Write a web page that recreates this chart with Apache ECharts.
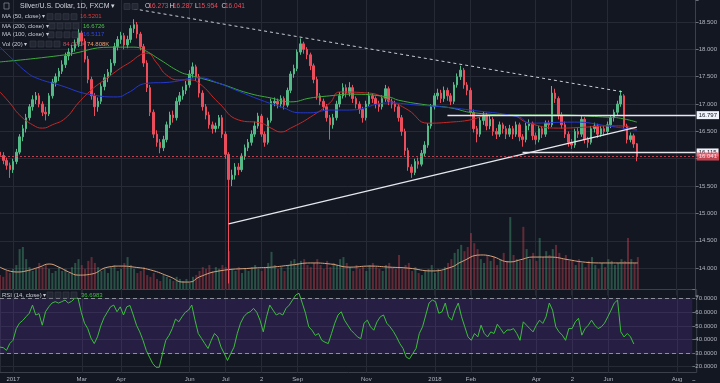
<!DOCTYPE html>
<html><head><meta charset="utf-8">
<script src="https://cdn.jsdelivr.net/npm/echarts@6/dist/echarts.min.js"></script>
<style>html,body{margin:0;padding:0;background:#131722;}#c{width:720px;height:383px;}</style>
</head><body><div id="c"></div>
<script>
// ---- data: 2-trading-day candles [open, close, low, high] ----
const ohlc = [
[16.12,16.06,15.98,16.20],[16.06,15.97,15.90,16.12],[15.97,15.88,15.80,16.02],[15.88,15.80,15.65,15.93],[15.80,15.95,15.74,16.00],
[15.95,16.12,15.90,16.18],[16.12,16.40,16.08,16.45],[16.40,16.55,16.32,16.62],[16.55,16.75,16.48,16.82],[16.75,16.95,16.70,17.00],
[16.95,17.08,16.88,17.16],[17.08,17.15,17.00,17.22],[17.15,17.00,16.94,17.20],[17.00,16.85,16.78,17.05],[16.85,16.82,16.70,16.95],
[16.82,17.15,16.78,17.20],[17.15,17.40,17.10,17.46],[17.40,17.50,17.32,17.56],[17.50,17.60,17.42,17.66],[17.60,17.72,17.55,17.80],
[17.72,17.88,17.66,17.94],[17.88,17.95,17.80,18.02],[17.95,18.02,17.88,18.08],[18.02,18.10,17.96,18.18],[18.10,18.30,18.04,18.38],
[18.30,18.15,18.06,18.34],[18.15,17.82,17.76,18.20],[17.82,17.45,17.38,17.88],[17.45,17.15,17.08,17.50],[17.15,16.95,16.78,17.20],
[16.95,17.05,16.86,17.12],[17.05,17.32,17.00,17.38],[17.32,17.48,17.25,17.55],[17.48,17.58,17.40,17.64],[17.58,17.75,17.52,17.82],
[17.75,18.05,17.70,18.12],[18.05,18.18,17.98,18.24],[18.18,18.25,18.10,18.32],[18.25,18.08,18.00,18.30],[18.08,18.18,18.02,18.25],
[18.18,18.38,18.12,18.44],[18.38,18.45,18.30,18.55],[18.45,18.28,18.20,18.50],[18.28,18.05,17.98,18.32],[18.05,17.75,17.68,18.10],
[17.75,17.30,17.22,17.80],[17.30,16.85,16.78,17.35],[16.85,16.45,16.38,16.90],[16.45,16.30,16.22,16.52],[16.30,16.20,16.10,16.36],
[16.20,16.35,16.14,16.42],[16.35,16.62,16.30,16.68],[16.62,16.80,16.56,16.86],[16.80,16.75,16.66,16.88],[16.75,17.05,16.70,17.12],
[17.05,17.15,16.98,17.22],[17.15,17.25,17.08,17.32],[17.25,17.35,17.18,17.42],[17.35,17.55,17.30,17.62],[17.55,17.68,17.48,17.76],
[17.68,17.50,17.42,17.72],[17.50,17.20,17.12,17.55],[17.20,16.95,16.88,17.25],[16.95,16.80,16.72,17.00],[16.80,16.62,16.55,16.86],
[16.62,16.55,16.46,16.68],[16.55,16.60,16.48,16.66],[16.60,16.75,16.55,16.80],[16.75,16.45,16.38,16.80],[16.45,16.08,16.00,16.50],
[16.08,15.62,13.72,16.12],[15.62,15.70,15.50,15.80],[15.70,15.85,15.62,15.92],[15.85,15.80,15.70,15.92],[15.80,16.05,15.76,16.10],
[16.05,16.20,15.98,16.26],[16.20,16.30,16.14,16.36],[16.30,16.45,16.24,16.52],[16.45,16.60,16.40,16.68],[16.60,16.78,16.55,16.84],
[16.78,16.45,16.40,16.82],[16.45,16.30,16.22,16.50],[16.30,16.70,16.26,16.75],[16.70,17.05,16.66,17.10],[17.02,17.05,16.96,17.12],
[17.05,17.00,16.92,17.10],[17.00,17.10,16.94,17.16],[17.10,16.98,16.90,17.14],[16.98,17.25,16.94,17.30],[17.25,17.55,17.20,17.60],
[17.55,17.65,17.48,17.72],[17.65,17.95,17.60,18.00],[17.95,18.10,17.90,18.20],[18.10,18.00,17.92,18.14],[18.00,17.90,17.82,18.04],
[17.90,17.70,17.62,17.94],[17.70,17.45,17.38,17.74],[17.45,17.15,17.08,17.50],[17.15,17.05,16.98,17.20],[17.05,16.95,16.88,17.10],
[16.95,16.75,16.68,17.00],[16.75,16.62,16.35,16.80],[16.62,16.75,16.55,16.82],[16.75,17.00,16.70,17.06],[17.00,17.15,16.94,17.22],
[17.15,17.30,17.10,17.38],[17.30,17.20,17.12,17.36],[17.20,17.30,17.14,17.40],[17.30,17.10,17.02,17.35],[17.10,17.00,16.92,17.14],
[17.00,16.90,16.82,17.05],[16.90,16.75,16.66,16.95],[16.75,17.00,16.70,17.06],[17.00,17.15,16.96,17.22],[17.15,17.10,17.02,17.20],
[17.10,17.00,16.92,17.14],[17.00,16.95,16.86,17.06],[16.95,17.10,16.90,17.16],[17.10,17.28,17.04,17.35],[17.28,17.05,16.98,17.32],
[17.05,17.00,16.92,17.10],[17.00,16.95,16.86,17.06],[16.95,16.75,16.68,17.00],[16.75,16.50,16.42,16.80],[16.50,16.15,16.06,16.55],
[16.15,15.85,15.78,16.20],[15.85,15.75,15.65,15.90],[15.75,15.95,15.70,16.00],[15.95,15.90,15.82,16.02],[15.90,16.10,15.86,16.16],
[16.10,16.25,16.05,16.32],[16.25,16.60,16.20,16.65],[16.60,16.95,16.55,17.00],[16.95,17.15,16.90,17.20],[17.15,17.20,17.08,17.28],
[17.20,17.10,17.02,17.26],[17.10,17.25,17.04,17.32],[17.25,17.15,17.06,17.30],[17.15,17.05,16.98,17.20],[17.05,17.35,17.00,17.40],
[17.35,17.50,17.30,17.56],[17.50,17.62,17.44,17.70],[17.62,17.35,17.28,17.66],[17.35,17.25,17.16,17.40],[17.25,16.85,16.78,17.30],
[16.85,16.55,16.48,16.90],[16.55,16.45,16.30,16.60],[16.45,16.70,16.40,16.76],[16.70,16.80,16.62,16.86],[16.80,16.60,16.52,16.84],
[16.60,16.72,16.54,16.78],[16.72,16.50,16.42,16.76],[16.50,16.45,16.36,16.56],[16.45,16.62,16.40,16.68],[16.62,16.55,16.46,16.66],
[16.55,16.45,16.36,16.60],[16.45,16.55,16.40,16.62],[16.55,16.45,16.36,16.60],[16.45,16.62,16.40,16.68],[16.62,16.40,16.32,16.66],
[16.40,16.35,16.22,16.45],[16.35,16.60,16.30,16.66],[16.60,16.65,16.52,16.72],[16.65,16.42,16.34,16.68],[16.42,16.35,16.26,16.48],
[16.35,16.55,16.30,16.60],[16.55,16.45,16.38,16.60],[16.45,16.65,16.40,16.70],[16.65,16.62,16.54,16.70],[16.62,17.20,16.58,17.33],
[17.20,17.10,17.02,17.28],[17.10,16.80,16.72,17.14],[16.80,16.62,16.55,16.85],[16.62,16.45,16.38,16.68],[16.45,16.30,16.22,16.50],
[16.30,16.25,16.18,16.36],[16.25,16.50,16.20,16.55],[16.50,16.45,16.38,16.56],[16.45,16.72,16.40,16.78],[16.72,16.35,16.28,16.76],
[16.35,16.30,16.20,16.40],[16.30,16.55,16.26,16.60],[16.55,16.60,16.48,16.66],[16.60,16.45,16.38,16.64],[16.45,16.55,16.40,16.60],
[16.55,16.50,16.42,16.60],[16.50,16.62,16.45,16.68],[16.62,16.75,16.56,16.80],[16.75,16.85,16.68,16.90],[16.85,17.00,16.80,17.06],
[17.00,17.15,16.95,17.25],[17.15,16.60,16.55,17.18],[16.60,16.35,16.28,16.64],[16.35,16.42,16.30,16.48],[16.42,16.27,16.20,16.46],
[16.273,16.041,15.954,16.287]
];
// volume (K)
const volume = [
40,35,52,46,58,69,115,121,86,63,52,58,75,63,69,58,46,52,63,
52,58,46,63,75,86,69,58,81,92,75,63,52,58,46,63,69,52,58,75,92,69,
58,46,52,63,40,35,46,29,23,40,35,29,23,35,29,
23,29,17,35,40,52,63,58,69,52,63,58,69,63,109,
58,52,63,46,58,52,63,69,58,52,63,75,107,69,58,63,52,69,81,86,75,
81,86,69,63,75,86,69,58,81,63,75,69,86,92,75,63,
52,69,58,63,52,69,75,63,58,52,69,75,63,58,
98,
58,69,75,52,63,46,40,52,58,69,46,58,52,63,75,
86,104,115,127,109,121,161,132,115,
86,75,98,81,92,69,86,104,81,
207,
98,86,81,
179,
115,86,104,81,
147,
92,109,98,115,127,104,86,98,81,
81,69,86,75,63,81,92,69,58,75,63,86,81,69,75,86,
81,147,86,75,92
];
// RSI (14)
const rsi = [
34.4,34,32,37,39.4,48,52,54,56.7,59.3,65.3,58,59,50.5,60.4,64,66.8,67.8,66.8,67.8,
69,66.8,68,70.3,70.5,60,52,48,41,37,42,50,56,60,64,65.3,60.4,64,58,64,
65,58,50.5,45.6,39.4,32,27,22.3,19.6,19.6,29.7,39.4,43,48,55,53,56.7,60,61.6,65.3,
54.2,44.4,40.8,37,33.4,39.4,44.4,41.9,34.4,29.7,24.6,29.7,34.4,44.4,52,56.7,59.3,60.4,62.9,60,
54.2,45.6,56.7,65.3,61.6,58,59.3,58,62.9,65.3,69,72.7,74,66.8,59.3,49.3,46.8,43,44.4,39.4,
38,37,44.4,52,58,60.4,54.2,50.5,46.8,44.4,41.9,40.6,52,54.2,49.3,46.8,53,56.7,58,52,
49.3,46,41.9,37,33.4,27,25.8,29.7,33.4,44.4,49.3,58,66.8,69,67.8,59.3,60.4,66.8,56.7,54.2,
61.6,66.8,56.7,49.3,41.9,39.4,44.4,41.9,50.5,44.4,41.9,45.6,44.4,51.2,48,44.4,47,47,48,44.4,
39.4,53,50.5,48,45.6,50.5,54.2,51.8,56.7,66.8,61.6,49.3,45.6,43.2,39.4,48,48,53,55.6,43.2,
48,50.5,54.2,50.5,48,49.3,52,56.7,61.6,66.8,69,45.6,41.9,44.4,41.9,36.7
];
// moving averages: [candle index, value]
const ma50 = [[0,17.22],[3,17.02],[6,16.80],[10,16.62],[13,16.56],[16,16.62],[20,16.74],[24,17.02],[28,17.26],[31,17.40],[34,17.53],[37,17.66],[40,17.77],[43,17.90],[45,17.93],[48,17.75],[51,17.53],[55,17.44],[58,17.44],[61,17.38],[67,17.02],[73,16.71],[80,16.65],[83,16.56],[86,16.49],[89,16.56],[95,16.76],[101,17.02],[104,17.22],[113,17.20],[119,17.07],[125,16.89],[131,16.65],[138,16.67],[144,16.71],[150,16.80],[156,16.80],[162,16.65],[171,16.56],[180,16.58],[186,16.60],[190,16.60],[195,16.53]];
const ma200 = [[0,17.77],[20,17.90],[34,18.04],[41,18.04],[44,17.99],[49,17.81],[55,17.59],[58,17.53],[67,17.38],[76,17.20],[83,17.11],[89,17.04],[95,17.11],[101,17.15],[107,17.18],[119,17.13],[122,17.07],[131,16.98],[138,16.93],[145,16.84],[159,16.80],[169,16.80],[186,16.76],[190,16.74],[195,16.67]];
const ma100 = [[0,18.04],[4,17.81],[8,17.59],[11,17.48],[18,17.35],[28,17.17],[36,17.13],[39,17.20],[45,17.38],[52,17.40],[61,17.48],[67,17.38],[72,17.26],[80,17.07],[86,16.95],[92,16.84],[95,16.84],[101,16.89],[107,16.89],[119,17.02],[128,16.98],[135,16.95],[144,16.89],[159,16.76],[162,16.65],[176,16.67],[186,16.60],[195,16.52]];
const volMa = [[0,63],[5,49],[8,52],[12,63],[15,72],[18,63],[21,49],[24,40],[28,43],[33,63],[37,66],[41,63],[46,55],[52,35],[56,20],[58,20],[61,35],[67,52],[77,60],[83,63],[89,69],[95,75],[101,72],[107,63],[113,66],[119,63],[125,60],[132,52],[138,63],[141,78],[147,98],[150,95],[156,78],[159,84],[163,92],[168,92],[174,84],[178,78],[184,75],[190,75],[195,75]];
// drawings
const resistanceLine = [[41,18.74],[191,17.22]];
const supportLine = [[70,14.81],[195,16.58]];
const levelHigh = {from:137, value:16.797};
const levelLow = {from:160, value:16.115};
const lastPrice = 16.041;
// x axis
const slotCount = 214;
const monthIdx = [4,25,37,58,69,80,91,112,133,144,164,175,186,207];
const monthLabels = ['2017','Mar','Apr','Jun','Jul','2','Sep','Nov','2018','Feb','Apr','2','Jun','Aug'];

const categories = [];
for (let i = 0; i < slotCount; i++) categories.push(String(i));
const lastIdx = slotCount - 1;
const isMonth = (i) => monthIdx.indexOf(i) >= 0;

const BG = '#131722', GRID = '#262a35', TXT = '#b2b5be', AXL = '#3c404b';
const UP = '#53b987', DOWN = '#eb4d5c';
const FONT = 'Liberation Sans, Arial, sans-serif';

const volData = volume.map((v, i) => ({
  value: v,
  itemStyle: {color: ohlc[i][1] >= ohlc[i][0] ? 'rgba(83,185,135,0.36)' : 'rgba(235,77,92,0.36)'}
}));

const R = 23.3;
function boxes(x0, y, n) {
  const arr = [];
  for (let k = 0; k < n; k++) {
    arr.push({type:'rect', shape:{x:x0 + k*8, y:y-3, width:6, height:6},
      style:{fill:'#232733', stroke:'#3a3e4a', lineWidth:0.6}, z:100});
  }
  return arr;
}
function txt(x, y, s, color, size) {
  return {type:'text', x:x, y:y, z:101,
    style:{text:s, fill:color, font: (size||6) + 'px ' + FONT, verticalAlign:'middle', align:'left'}};
}
const lvlLabel = (v, fg, bg) => ({show:true, position:'end', distance:1, formatter:v.toFixed(3), color:fg, backgroundColor:bg,
  fontSize:6, fontFamily:FONT, padding:[0.5,2,0.5,2], lineHeight:7});

const option = {
  backgroundColor: BG,
  animation: false,
  grid: [
    {left:0, right:R, top:0, height:295.5},
    {left:0, right:R, top:189, height:100},
    {left:0, right:R, top:289.5, height:90.8},
    {left:0, right:R, top:289.5, height:83, show:true, borderColor:AXL, borderWidth:1, backgroundColor:'transparent'}
  ],
  xAxis: [
    {gridIndex:0, type:'category', data:categories, boundaryGap:false,
      axisLine:{show:false}, axisTick:{show:false}, axisLabel:{show:false},
      splitLine:{show:true, interval:(i)=>isMonth(i), lineStyle:{color:GRID, width:1}}},
    {gridIndex:1, type:'category', data:categories, boundaryGap:false, show:false},
    {gridIndex:2, type:'category', data:categories, boundaryGap:false, show:false},
    {gridIndex:3, type:'category', data:categories, boundaryGap:false,
      axisLine:{show:false}, axisTick:{show:false},
      axisLabel:{interval:(i)=>isMonth(i), formatter:(v, i)=>{const k = monthIdx.indexOf(Number(v)); return k>=0 ? monthLabels[k] : '';},
        color:TXT, fontSize:6, fontFamily:FONT, margin:4},
      splitLine:{show:true, interval:(i)=>isMonth(i), lineStyle:{color:GRID, width:1}}}
  ],
  yAxis: [
    {gridIndex:0, type:'value', position:'right', min:13.5, max:18.902, interval:0.5,
      axisLine:{show:true, lineStyle:{color:AXL}},
      axisTick:{show:true, length:3, lineStyle:{color:'#6a6e79'}},
      axisLabel:{color:TXT, fontSize:6, fontFamily:FONT, margin:3,
        formatter:(v)=> (v < 13.99 || v > 18.51 || Math.abs(v-16) < 1e-6) ? '' : v.toFixed(3)},
      splitLine:{show:true, showMinLine:false, showMaxLine:false, lineStyle:{color:GRID, width:1}}},
    {gridIndex:1, type:'value', min:0, max:288, show:false},
    {gridIndex:2, type:'value', position:'right', min:10, max:76.76, interval:10,
      axisLine:{show:false},
      axisTick:{show:true, length:3, lineStyle:{color:'#6a6e79'}},
      axisLabel:{color:TXT, fontSize:6, fontFamily:FONT, margin:3,
        formatter:(v)=> (v < 19 || v > 71) ? '' : v.toFixed(4)},
      splitLine:{show:true, showMinLine:false, showMaxLine:false, lineStyle:{color:GRID, width:1}}},
    {gridIndex:3, type:'value', show:false}
  ],
  series: [
    {type:'bar', name:'Vol', xAxisIndex:1, yAxisIndex:1, data:volData, barWidth:2, z:1},
    {type:'line', name:'VolMA', xAxisIndex:1, yAxisIndex:1, data:volMa, smooth:true, showSymbol:false,
      lineStyle:{color:'#d9a27c', width:1}, z:2},
    {type:'candlestick', name:'XAGUSD', xAxisIndex:0, yAxisIndex:0, data:ohlc, barWidth:2, clip:false, z:3,
      itemStyle:{color:UP, color0:DOWN, borderColor:UP, borderColor0:DOWN, borderWidth:1},
      markLine:{silent:true, symbol:['none','none'], animation:false,
        data:[
          [{coord:resistanceLine[0], lineStyle:{color:'#c9ccd4', width:1, type:[3,3]}, label:{show:false}}, {coord:resistanceLine[1]}],
          [{coord:supportLine[0], lineStyle:{color:'#e6e8ee', width:1.3, type:'solid'}, label:{show:false}}, {coord:supportLine[1]}],
          [{coord:[levelHigh.from, levelHigh.value], lineStyle:{color:'#e6e8ee', width:1.3, type:'solid'},
             label:lvlLabel(levelHigh.value, '#131722', '#f0f3fa')},
           {coord:[lastIdx, levelHigh.value]}],
          [{coord:[levelLow.from, levelLow.value], lineStyle:{color:'#e6e8ee', width:1.3, type:'solid'},
             label:lvlLabel(levelLow.value, '#131722', '#f0f3fa')},
           {coord:[lastIdx, levelLow.value]}],
          {yAxis:lastPrice, lineStyle:{color:DOWN, width:1, type:[2,2], opacity:0.8},
             label:lvlLabel(lastPrice, '#ffffff', DOWN)}
        ]}},
    {type:'line', name:'MA50', xAxisIndex:0, yAxisIndex:0, data:ma50, smooth:true, showSymbol:false,
      lineStyle:{color:'#c62828', width:1}, z:4},
    {type:'line', name:'MA200', xAxisIndex:0, yAxisIndex:0, data:ma200, smooth:true, showSymbol:false,
      lineStyle:{color:'#3cab3c', width:1}, z:4},
    {type:'line', name:'MA100', xAxisIndex:0, yAxisIndex:0, data:ma100, smooth:true, showSymbol:false,
      lineStyle:{color:'#2438d0', width:1}, z:4},
    {type:'line', name:'RSI', xAxisIndex:2, yAxisIndex:2, data:rsi, showSymbol:false,
      lineStyle:{color:'#3bbf3b', width:1}, z:4,
      markArea:{silent:true, itemStyle:{color:'rgba(120,60,200,0.20)'}, data:[[{yAxis:30},{yAxis:70}]]},
      markLine:{silent:true, symbol:['none','none'], label:{show:false},
        lineStyle:{color:'#8d909a', width:1, type:[4,3]}, data:[{yAxis:70},{yAxis:30}]}}
  ],
  graphic: [
    {type:'rect', shape:{x:4, y:3, width:5, height:6}, style:{fill:'none', stroke:'#8d909a', lineWidth:0.7}, z:100},
    txt(20, 6.5, 'Silver/U.S. Dollar, 1D, FXCM ▾', '#d1d4dc', 7),
    ...boxes(124, 6.5, 2),
    txt(145, 6.5, 'O', '#d1d4dc', 6.5), txt(148.5, 6.5, '16.273', DOWN, 6.5),
    txt(169.5, 6.5, 'H', '#d1d4dc', 6.5), txt(173, 6.5, '16.287', DOWN, 6.5),
    txt(195, 6.5, 'L', '#d1d4dc', 6.5), txt(198, 6.5, '15.954', DOWN, 6.5),
    txt(221.5, 6.5, 'C', '#d1d4dc', 6.5), txt(225, 6.5, '16.041', DOWN, 6.5),
    txt(2, 16.7, 'MA (50, close) ▾', '#c8cbd3'), ...boxes(47, 16.7, 4), txt(80, 16.7, '16.5201', '#e53935'),
    txt(2, 26, 'MA (200, close) ▾', '#c8cbd3'), ...boxes(49, 26, 4), txt(83, 26, '16.6726', '#4cc24c'),
    txt(2, 34.8, 'MA (100, close) ▾', '#c8cbd3'), ...boxes(48, 34.8, 4), txt(83, 34.8, '16.5117', '#3048e0'),
    txt(2, 44, 'Vol (20) ▾', '#c8cbd3'), ...boxes(30, 44, 4), txt(63, 44, '84.091K', '#d24a5c'), txt(87, 44, '74.808K', '#f0a070'),
    txt(2, 295, 'RSI (14, close) ▾', '#c8cbd3'), ...boxes(47, 295, 4), txt(81, 295, '36.6983', '#3bbf3b')
  ]
};
const chart = echarts.init(document.getElementById('c'));
chart.setOption(option);
</script>
</body></html>
